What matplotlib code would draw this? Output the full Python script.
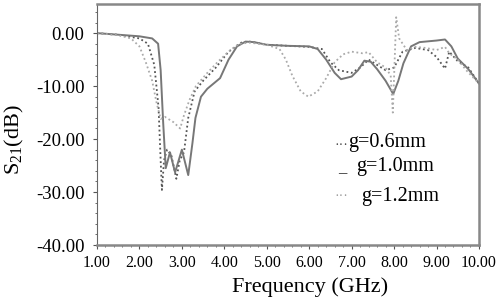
import matplotlib
matplotlib.use("Agg")
import matplotlib.pyplot as plt
from matplotlib.ticker import MultipleLocator, FormatStrFormatter
import numpy as np

SERIF = ['Liberation Serif', 'DejaVu Serif']
plt.rcParams['font.family'] = SERIF
plt.rcParams['mathtext.fontset'] = 'custom'
plt.rcParams['mathtext.rm'] = 'Liberation Serif'

# g = 0.6 mm
f06 = [1.0, 1.5, 2.0, 2.2, 2.35, 2.45, 2.5, 2.53, 2.58, 2.65, 2.75, 2.87, 2.95, 3.05, 3.15,
       3.3, 3.5, 3.8, 4.1, 4.4, 4.6, 5.0, 5.5, 6.0, 6.3, 6.5, 6.7, 7.0, 7.2, 7.4, 7.6, 7.8,
       8.0, 8.2, 8.5, 8.8, 9.0, 9.2, 9.3, 9.5, 9.75, 10.0]
s06 = [0.0, -0.3, -1.0, -2.0, -6.0, -14.0, -24.0, -29.6, -24.0, -22.0, -23.0, -27.5, -24.0,
       -22.5, -16.0, -11.0, -9.0, -6.5, -3.5, -1.8, -1.6, -2.2, -2.4, -2.6, -3.0, -5.5, -7.0,
       -7.5, -6.5, -5.0, -6.0, -7.0, -6.5, -3.5, -2.8, -3.2, -4.5, -6.7, -3.5, -5.3, -6.5, -9.5]

# g = 1.0 mm
f10 = [1.0, 1.5, 2.0, 2.3, 2.44, 2.5, 2.56, 2.62, 2.72, 2.84, 3.0, 3.15, 3.25, 3.32, 3.45,
       3.6, 3.9, 4.1, 4.3, 4.5, 4.7, 5.0, 5.5, 6.0, 6.2, 6.4, 6.6, 6.75, 7.0, 7.15, 7.3, 7.45,
       7.6, 7.8, 7.98, 8.1, 8.22, 8.4, 8.6, 9.0, 9.2, 9.35, 9.5, 9.75, 10.0]
s10 = [0.0, -0.3, -0.6, -1.0, -2.0, -7.0, -17.0, -25.5, -22.5, -26.3, -22.0, -26.8, -20.7,
       -16.0, -12.0, -10.5, -8.5, -5.0, -2.5, -1.6, -1.7, -2.2, -2.4, -2.5, -3.0, -5.0, -7.5,
       -8.7, -8.2, -7.0, -5.2, -5.4, -6.8, -9.0, -11.5, -9.0, -5.7, -2.5, -1.7, -1.4, -1.2,
       -2.5, -4.8, -6.8, -9.5]

# g = 1.2 mm
f12 = [1.0, 1.5, 1.8, 2.0, 2.15, 2.3, 2.4, 2.5, 2.6, 2.8, 2.96, 3.05, 3.18, 3.33, 3.6, 3.85,
       4.1, 4.35, 4.6, 5.0, 5.3, 5.45, 5.6, 5.8, 5.98, 6.2, 6.4, 6.6, 6.8, 7.0, 7.25, 7.4, 7.6,
       7.8, 7.92, 7.97, 8.05, 8.12, 8.3, 8.5, 8.75, 9.0, 9.2, 9.3, 9.5, 9.7, 10.0]
s12 = [0.0, -0.4, -1.0, -2.5, -5.5, -9.0, -13.0, -16.2, -15.8, -16.8, -18.0, -15.5, -12.6,
       -10.0, -7.5, -5.4, -3.5, -2.0, -1.8, -2.2, -3.0, -5.0, -8.0, -11.0, -12.0, -11.0, -8.5,
       -5.5, -4.0, -3.5, -3.8, -3.6, -5.5, -6.5, -8.0, -15.0, 3.0, -1.0, -3.2, -2.6, -2.8,
       -3.2, -2.6, -3.8, -5.0, -7.0, -9.5]

xticks = [1, 2, 3, 4, 5, 6, 7, 8, 9, 10]
yticks = [0, -10, -20, -30, -40]

fig = plt.figure(figsize=(5.01, 3.0), dpi=100)
ax = fig.add_axes([0.1936, 0.1833, 0.7624, 0.8034])

ax.plot(f06, s06, color='#555555', linestyle=(0, (1, 1.5)), lw=1.3)
ax.plot(f10, s10, color='#777777', linestyle='-', lw=1.4)
ax.plot(f12, s12, color='#aaaaaa', linestyle=(0, (1, 1.5)), lw=1.3)

ax.set_xlim(1, 10)
ax.set_ylim(-40, 5.5)
ax.set_xticks(xticks)
ax.set_yticks(yticks)
ax.xaxis.set_major_formatter(FormatStrFormatter('%.2f'))
ax.yaxis.set_major_formatter(FormatStrFormatter('%.2f'))
ax.xaxis.set_minor_locator(MultipleLocator(0.2))
ax.yaxis.set_minor_locator(MultipleLocator(2))
ax.tick_params(axis='both', which='major', length=3, width=0.8, color='#555555')
ax.tick_params(axis='x', which='major', labelsize=11.5, pad=4)
ax.tick_params(axis='y', which='major', labelsize=13.5, pad=6)
ax.tick_params(axis='both', which='minor', length=1.5, width=0.6, color='#555555')
for lab in ax.get_xticklabels() + ax.get_yticklabels():
    lab.set_fontfamily(SERIF)

for side in ['top', 'right', 'bottom']:
    ax.spines[side].set_color('#888888')
    ax.spines[side].set_linewidth(1.8)
ax.spines['left'].set_color('#666666')
ax.spines['left'].set_linewidth(0.8)

ax.set_xlabel('Frequency (GHz)', fontsize=16, fontfamily=SERIF)
ax.xaxis.label.set_va('center')
ax.xaxis.set_label_coords((310 - 97) / 382, (245 - 287) / 241)
ax.set_ylabel(r'S$_{\mathregular{21}}$(dB)', fontsize=16, fontfamily=SERIF)
ax.yaxis.label.set_va('center')
ax.yaxis.set_label_coords((14 - 97) / 382, (245 - 140) / 241)

# legend drawn as text entries
leg_fs = 14.5
fig.text(334/501, 1 - 145/300, '···', fontsize=10, color='#444444', va='center')
fig.text(348/501, 1 - 143/300, 'g=0.6mm', fontsize=leg_fs, va='center', fontfamily=SERIF)
fig.text(338/501, 1 - 176/300, '_', fontsize=12, color='#222222', va='bottom')
fig.text(356/501, 1 - 167/300, 'g=1.0mm', fontsize=leg_fs, va='center', fontfamily=SERIF)
fig.text(334/501, 1 - 197/300, '···', fontsize=10, color='#999999', va='center')
fig.text(361/501, 1 - 197/300, 'g=1.2mm', fontsize=leg_fs, va='center', fontfamily=SERIF)

fig.savefig('out.png', dpi=100)
